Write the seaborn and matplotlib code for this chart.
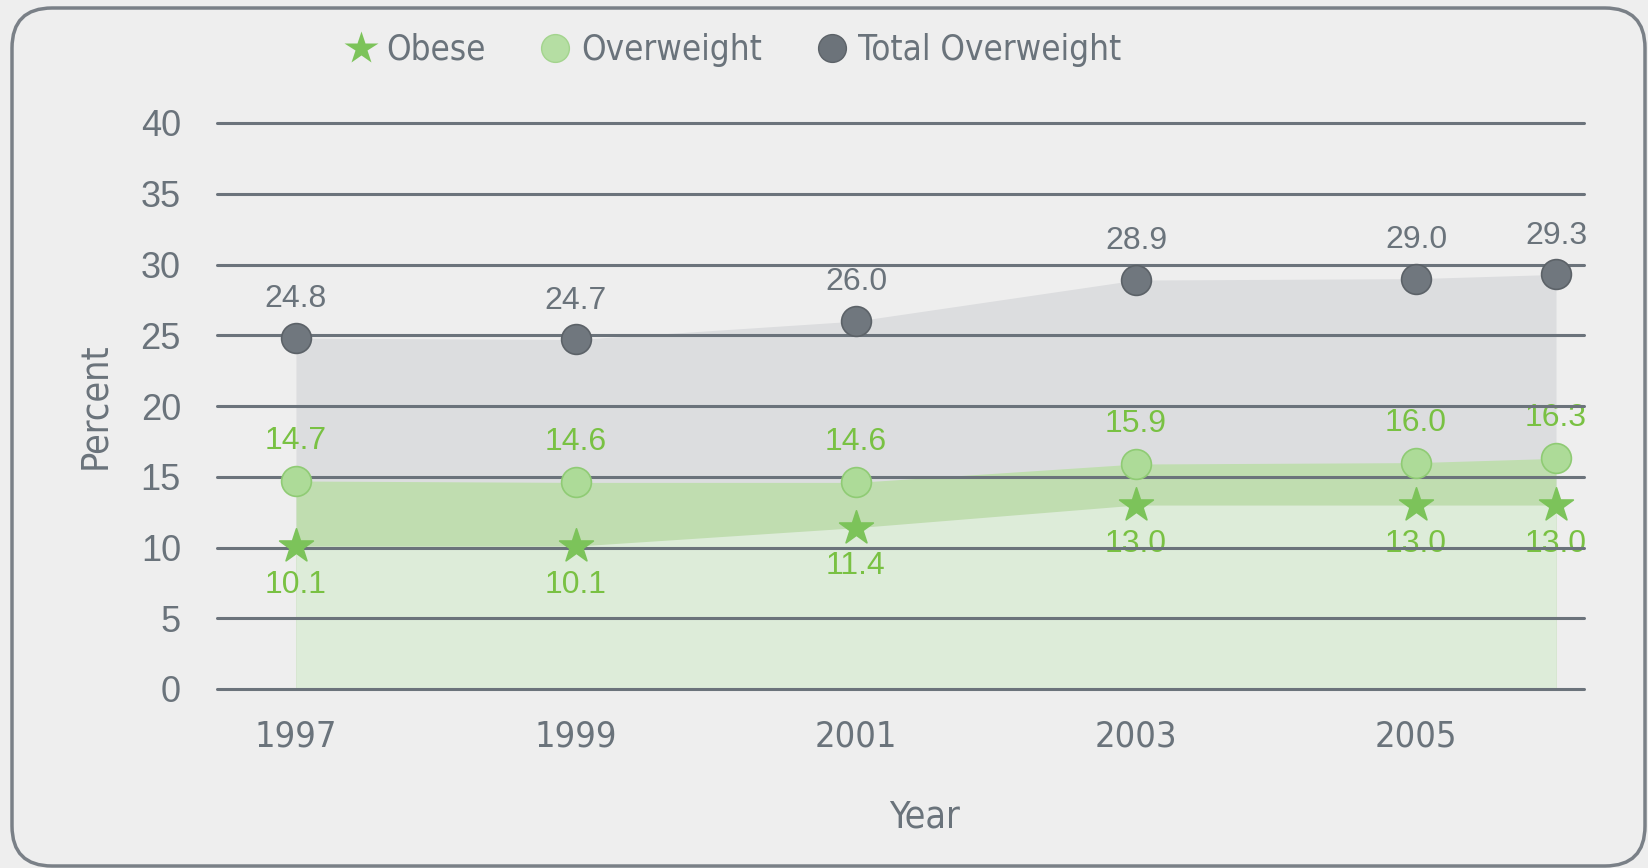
import matplotlib
matplotlib.use('Agg')
import matplotlib.pyplot as plt
import matplotlib.patches as mpatches
from matplotlib.lines import Line2D
from matplotlib.transforms import IdentityTransform
from matplotlib.font_manager import FontProperties
import seaborn as sns
import pandas as pd

years = [1997, 1999, 2001, 2003, 2005, 2006]
year_ticks = [1997, 1999, 2001, 2003, 2005]
obese = [10.1, 10.1, 11.4, 13.0, 13.0, 13.0]
overweight = [14.7, 14.6, 14.6, 15.9, 16.0, 16.3]
total = [24.8, 24.7, 26.0, 28.9, 29.0, 29.3]
series_names = ['Obese', 'Overweight', 'Total Overweight']

df = pd.DataFrame({'year': years * 3,
                   'value': obese + overweight + total,
                   'series': sum([[n] * len(years) for n in series_names], [])})

BG = '#eeeeee'
GRID = '#6b737b'
TXT = '#6a737b'
GREEN_TXT = '#79c143'
REG = ['Liberation Sans', 'DejaVu Sans']

sns.set_style('white')
plt.rcParams['font.family'] = REG


def narrow(size):
    return FontProperties(family='DejaVu Sans', stretch='condensed', size=size)


fig = plt.figure(figsize=(16.48, 8.68), dpi=100, facecolor=BG)
ax = fig.add_axes([217 / 1648, 1 - 689 / 868, (1584 - 217) / 1648, (689 - 123) / 868])
ax.set_facecolor(BG)

# overlapping areas from zero
ax.fill_between(years, 0, total, color='#dcdddf', lw=0, zorder=1)
ax.fill_between(years, 0, overweight, color='#c0ddb0', lw=0, zorder=2)
ax.fill_between(years, 0, obese, color='#ddecd9', lw=0, zorder=3)

for y in range(0, 41, 5):
    ax.axhline(y, color=GRID, lw=2.2, zorder=4, clip_on=False)

styles = {'Obese': dict(marker='*', color='#7cc35a', ec='#7cc35a', s=650),
          'Overweight': dict(marker='o', color='#addb98', ec='#8fcb74', s=460),
          'Total Overweight': dict(marker='o', color='#70777e', ec='#5c6268', s=460)}
for name in series_names:
    st = styles[name]
    sns.scatterplot(data=df[df.series == name], x='year', y='value', ax=ax,
                    marker=st['marker'], color=st['color'], s=st['s'],
                    edgecolor=st['ec'], linewidth=1.2, zorder=5, legend=False)

for x, v in zip(years, total):
    ax.annotate(f'{v:.1f}', (x, v), xytext=(0, 17), textcoords='offset points',
                ha='center', va='bottom', fontsize=23, color=TXT)
for x, v in zip(years, overweight):
    ax.annotate(f'{v:.1f}', (x, v), xytext=(0, 18), textcoords='offset points',
                ha='center', va='bottom', fontsize=23, color=GREEN_TXT)
for x, v in zip(years, obese):
    ax.annotate(f'{v:.1f}', (x, v), xytext=(0, -17), textcoords='offset points',
                ha='center', va='top', fontsize=23, color=GREEN_TXT)

ax.set_xlim(1996.436, 2006.2)
ax.set_ylim(0, 40)
ax.set_yticks(range(0, 41, 5))
ax.set_xticks(year_ticks)
ax.set_xticklabels([str(y) for y in year_ticks], fontproperties=narrow(26), color=TXT)
ax.tick_params(axis='y', labelsize=26, labelcolor=TXT, length=0, pad=26)
ax.tick_params(axis='x', length=0, pad=22)
ax.set_xlabel('Year', fontproperties=narrow(27), color=TXT)
ax.set_ylabel('Percent', fontproperties=narrow(27), color=TXT, labelpad=20)
ax.xaxis.set_label_coords((925 - 217) / (1584 - 217), -(800 - 689) / (689 - 123))
sns.despine(ax=ax, left=True, bottom=True)

handles = [Line2D([], [], ls='none', marker='*', ms=25, color='#7cc35a', mec='none'),
           Line2D([], [], ls='none', marker='o', ms=20, color='#b5dea3', mec='#a3d48d'),
           Line2D([], [], ls='none', marker='o', ms=20, color='#6c737a', mec='#5c6268')]
leg = fig.legend(handles, series_names, loc='center left', ncol=3, frameon=False,
                 bbox_to_anchor=(312 / 1648, 1 - 50 / 868), handletextpad=0.25,
                 columnspacing=1.5, handlelength=1.0, prop=narrow(25))
for t in leg.get_texts():
    t.set_color(TXT)

border = mpatches.FancyBboxPatch((12, 2), 1633, 858,
                                 boxstyle='round,pad=0,rounding_size=40',
                                 transform=IdentityTransform(), fill=False,
                                 ec='#7a8087', lw=2.5, figure=fig)
fig.patches.append(border)

fig.savefig('out.png', dpi=100, facecolor=BG)
